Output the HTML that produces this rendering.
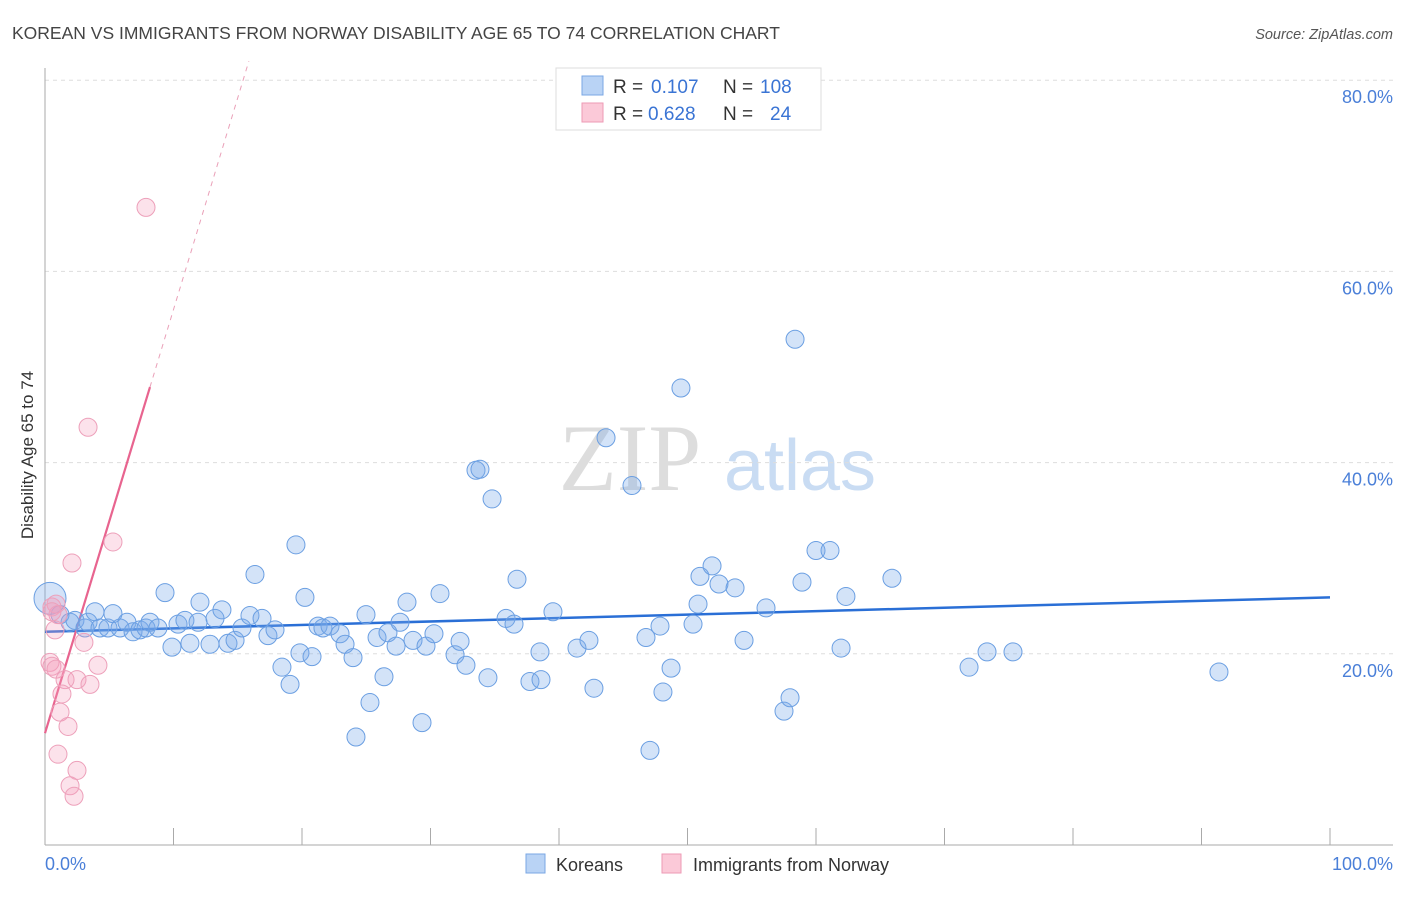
<!DOCTYPE html>
<html><head><meta charset="utf-8"><style>
body{margin:0;background:#fff;font-family:"Liberation Sans",sans-serif;}
</style></head><body>
<svg id="chart" width="1406" height="892" xmlns="http://www.w3.org/2000/svg">
<text x="12" y="39" font-size="17.5" fill="#444">KOREAN VS IMMIGRANTS FROM NORWAY DISABILITY AGE 65 TO 74 CORRELATION CHART</text>
<text x="1393" y="39" font-size="14.5" fill="#555" font-style="italic" text-anchor="end">Source: ZipAtlas.com</text>
<text x="630" y="490" font-size="95" fill="#ddd" font-family="Liberation Serif,serif" text-anchor="middle">ZIP</text>
<text x="800" y="490" font-size="72" fill="#c9dcf3" text-anchor="middle">atlas</text>
<g id="grid"></g><g id="axes"></g><g id="trend"></g><g id="points"></g>
<text transform="translate(33,455) rotate(-90)" font-size="17" fill="#333" text-anchor="middle">Disability Age 65 to 74</text>
<text x="45" y="870" font-size="18" fill="#4a7fd8">0.0%</text>
<text x="1393" y="870" font-size="18" fill="#4a7fd8" text-anchor="end">100.0%</text>
<g>
<rect x="556" y="68" width="265" height="62" fill="#fff" stroke="#ddd"/>
<rect x="582" y="76" width="21" height="19" fill="#b9d3f5" stroke="#7aa7e4"/>
<rect x="582" y="103" width="21" height="19" fill="#fbc9d8" stroke="#ee9ab5"/>
<text x="613" y="93" font-size="19" fill="#333">R = </text><text x="651" y="93" font-size="19" fill="#3a74d4">0.107</text>
<text x="723" y="93" font-size="19" fill="#333">N = </text><text x="760" y="93" font-size="19" fill="#3a74d4">108</text>
<text x="613" y="120" font-size="19" fill="#333">R = </text><text x="648" y="120" font-size="19" fill="#3a74d4">0.628</text>
<text x="723" y="120" font-size="19" fill="#333">N = </text><text x="770" y="120" font-size="19" fill="#3a74d4">24</text>
</g>
<g>
<rect x="526" y="854" width="19" height="19" fill="#b9d3f5" stroke="#7aa7e4"/>
<text x="556" y="871" font-size="18" fill="#333">Koreans</text>
<rect x="662" y="854" width="19" height="19" fill="#fbc9d8" stroke="#ee9ab5"/>
<text x="693" y="871" font-size="18" fill="#333">Immigrants from Norway</text>
</g>
</svg>
<script>
const blueX=[0.39,1.17,1.95,2.33,3.11,3.35,3.89,4.28,4.9,5.29,5.84,6.38,6.85,7.39,7.86,8.17,8.79,9.34,9.88,10.35,10.89,11.28,11.91,12.06,12.84,13.23,13.77,14.24,14.79,15.33,15.95,16.34,16.89,17.35,17.9,18.44,19.07,19.53,19.84,20.23,20.78,21.25,21.63,22.18,22.96,23.35,23.97,24.98,25.29,24.2,25.84,26.38,26.69,27.32,27.63,28.17,28.64,29.34,29.65,30.27,30.74,31.91,32.3,32.76,33.54,33.85,34.47,34.79,35.88,36.5,36.73,37.74,38.52,38.6,39.53,41.4,42.33,42.72,43.66,45.68,46.77,47.08,47.86,48.09,48.72,49.49,50.43,50.82,50.97,51.91,52.45,53.7,54.4,56.11,57.51,57.98,58.37,58.91,60.0,61.09,61.95,62.33,65.91,71.91,73.31,75.33,91.36];
const blueY=[25.8,24.1,23.3,23.5,22.7,23.3,24.4,22.7,22.7,24.2,22.7,23.3,22.3,22.5,22.7,23.3,22.7,26.4,20.7,23.1,23.5,21.1,23.3,25.4,21.0,23.7,24.6,21.1,21.4,22.7,24.0,28.3,23.7,21.9,22.5,18.6,16.8,31.4,20.1,25.9,19.7,22.9,22.7,22.9,22.1,21.0,19.6,24.1,14.9,11.3,21.7,17.6,22.2,20.8,23.3,25.4,21.4,12.8,20.8,22.1,26.3,19.9,21.3,18.8,39.2,39.3,17.5,36.2,23.7,23.1,27.8,17.1,20.2,17.3,24.4,20.6,21.4,16.4,42.6,37.6,21.7,9.9,22.9,16.0,18.5,47.8,23.1,25.2,28.1,29.2,27.3,26.9,21.4,24.8,14.0,15.4,52.9,27.5,30.8,30.8,20.6,26.0,27.9,18.6,20.2,20.2,18.1];
const pinkX=[0.54,0.86,1.01,0.78,0.39,0.54,0.86,2.1,3.35,5.29,7.86,3.03,4.12,2.49,1.56,3.5,1.32,1.17,1.79,1.01,2.49,1.95,2.26,0.54];
const pinkY=[24.9,25.2,24.1,22.5,19.1,18.7,18.4,29.5,43.7,31.7,66.7,21.2,18.8,17.3,17.3,16.8,15.8,13.9,12.4,9.5,7.8,6.2,5.1,24.4];
const yTicks=[20,40,60,80];
const xTicks=[0,10,20,30,40,50,60,70,80,90,100];
const blueTrend=[22.3,25.9];
const pinkTrend=[11.7,47.9,8.17];
const NS="http://www.w3.org/2000/svg";
const sx=v=>45+v*12.85, sy=v=>845-v*9.56;
function mk(tag,attrs,parent){const e=document.createElementNS(NS,tag);for(const k in attrs)e.setAttribute(k,attrs[k]);parent.appendChild(e);return e;}
const grid=document.getElementById('grid'),axes=document.getElementById('axes'),trend=document.getElementById('trend'),pts=document.getElementById('points');
yTicks.forEach(t=>{
 const l=mk('line',{x1:45,x2:1393,y1:sy(t),y2:sy(t),stroke:'#ddd','stroke-dasharray':'4,4'},grid);
 
 
 const tx=mk('text',{x:1393,y:sy(t)+23,'font-size':18,fill:'#4a7fd8','text-anchor':'end'},grid);
 tx.textContent=t.toFixed(1)+'%';
 
 
});
let a=mk('line',{x1:45,x2:45,y1:68,y2:845,stroke:'#aaa'},axes);


a=mk('line',{x1:45,x2:1393,y1:845,y2:845,stroke:'#aaa'},axes);


xTicks.forEach(t=>{
 const l=mk('line',{x1:sx(t),x2:sx(t),y1:828,y2:845,stroke:'#aaa'},axes);
 
 
});
blueX.forEach((x,i)=>{
 const c=mk('circle',{cx:sx(x),cy:sy(blueY[i]),r:i===0?16:9,fill:'rgba(120,170,235,0.33)',stroke:'#6b9fe2','stroke-width':1},pts);
 
 
});
pinkX.forEach((x,i)=>{
 const c=mk('circle',{cx:sx(x),cy:sy(pinkY[i]),r:9,fill:'rgba(245,160,190,0.3)',stroke:'#eda0ba','stroke-width':1},pts);
 
 
});
let t=mk('line',{x1:sx(0),y1:sy(blueTrend[0]),x2:sx(100),y2:sy(blueTrend[1]),stroke:'#2a6fd6','stroke-width':2.5},trend);


const slope=(pinkTrend[1]-pinkTrend[0])/pinkTrend[2];
t=mk('line',{x1:sx(0),y1:sy(pinkTrend[0]),x2:sx(pinkTrend[2]),y2:sy(pinkTrend[1]),stroke:'#e8648f','stroke-width':2.2},trend);


const xe=(82-pinkTrend[0])/slope;
t=mk('line',{x1:sx(pinkTrend[2]),y1:sy(pinkTrend[1]),x2:sx(xe),y2:sy(82),stroke:'#eaa0b8','stroke-width':1,'stroke-dasharray':'5,5'},trend);


</script>
</body></html>
